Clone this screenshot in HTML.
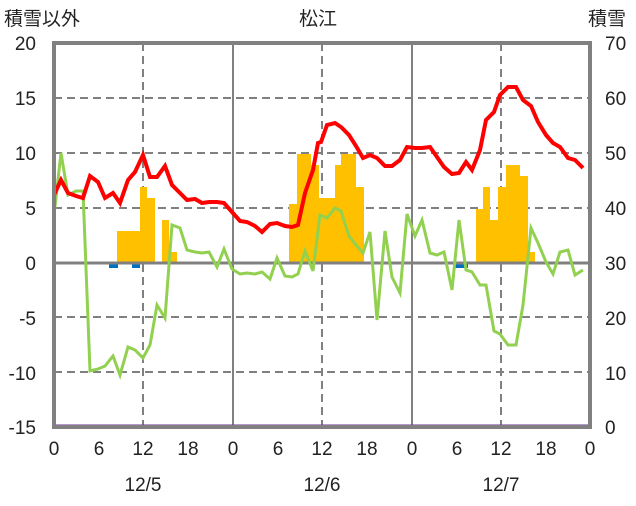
<!DOCTYPE html><html><head><style>body{margin:0;background:#fff}svg text{font-family:"Liberation Sans","Noto Sans CJK JP",sans-serif;font-size:19px;fill:#222}</style></head><body>
<svg width="636" height="501" xmlns="http://www.w3.org/2000/svg">
<g stroke="#808080" stroke-width="2" stroke-dasharray="8,5">
<line x1="54" y1="98" x2="590" y2="98"/><line x1="54" y1="153" x2="590" y2="153"/><line x1="54" y1="208" x2="590" y2="208"/><line x1="54" y1="317" x2="590" y2="317"/><line x1="54" y1="372" x2="590" y2="372"/>
<line x1="143" y1="43" x2="143" y2="427"/><line x1="322" y1="43" x2="322" y2="427"/><line x1="501" y1="43" x2="501" y2="427"/></g>
<g stroke="#808080" stroke-width="2"><line x1="233" y1="43" x2="233" y2="427"/><line x1="412" y1="43" x2="412" y2="427"/></g>
<g fill="#FFC000">
<rect x="117" y="231" width="23" height="32"/><rect x="140" y="187" width="7" height="76"/><rect x="147" y="198" width="8" height="65"/><rect x="162" y="220" width="7" height="43"/><rect x="169" y="252" width="8" height="11"/>
<rect x="289" y="204" width="8" height="59"/><rect x="297" y="154" width="14" height="109"/><rect x="311" y="165" width="8" height="98"/><rect x="319" y="198" width="16" height="65"/><rect x="335" y="165" width="6" height="98"/><rect x="341" y="154" width="15" height="109"/><rect x="356" y="187" width="8" height="76"/>
<rect x="476" y="209" width="7" height="54"/><rect x="483" y="187" width="7" height="76"/><rect x="490" y="220" width="8" height="43"/><rect x="498" y="187" width="8" height="76"/><rect x="506" y="165" width="14" height="98"/><rect x="520" y="176" width="8" height="87"/><rect x="528" y="252" width="7" height="11"/></g>
<g fill="#0070C0"><rect x="109" y="264" width="9" height="4"/><rect x="132" y="264" width="8" height="4"/><rect x="455" y="264" width="13" height="4"/></g>
<line x1="54" y1="263" x2="590" y2="263" stroke="#808080" stroke-width="3"/>
<polyline fill="none" stroke="#92D050" stroke-width="3" points="54,215 61,153 68,195 76,191 83,191 90,371 98,369 105,366 113,356 120,375 128,347 135,350 143,358 150,345 157,305 165,318 172,225 180,228 187,250 195,252 202,253 209,252 217,267 224,249 232,269 240,274 247,273 255,274 262,272 270,279 277,258 285,276 292,277 298,274 305,251 313,271 320,215 327,218 335,208 341,211 349,236 356,245 363,253 370,232 377,320 385,231 392,277 400,293 407,214 415,236 422,220 430,253 437,255 444,252 452,290 459,220 466,270 472,272 480,285 486,285 494,331 500,334 508,345 516,345 523,305 531,228 538,243 546,262 553,274 560,252 568,250 575,275 583,270"/>
<polyline fill="none" stroke="#FF0000" stroke-width="4" points="54,195 61,180 68,193 76,196 83,198 90,176 98,182 105,198 113,193 120,203 128,180 135,172 143,155 150,177 157,177 165,166 172,185 180,193 187,200 195,199 202,203 209,202 217,202 224,203 232,212 240,221 247,222 255,226 262,232 270,224 277,223 285,226 292,227 298,225 305,193 313,170 318,143 321,142 327,125 335,123 341,127 349,135 356,146 363,158 370,155 377,158 385,166 392,166 400,160 407,147 415,148 422,148 430,147 437,157 444,167 452,174 459,173 466,162 472,170 480,150 486,120 494,112 500,95 508,87 516,87 523,100 531,106 538,122 546,135 553,143 560,147 568,158 575,160 583,168"/>
<line x1="54" y1="426" x2="590" y2="426" stroke="#7030A0" stroke-width="3"/>
<rect x="54" y="43" width="536" height="384" fill="none" stroke="#808080" stroke-width="4"/>
<g text-anchor="end"><text x="36" y="50">20</text><text x="36" y="105">15</text><text x="36" y="160">10</text><text x="36" y="215">5</text><text x="36" y="270">0</text><text x="36" y="325">-5</text><text x="36" y="380">-10</text><text x="36" y="434">-15</text></g>
<g><text x="605" y="50">70</text><text x="605" y="105">60</text><text x="605" y="160">50</text><text x="605" y="215">40</text><text x="605" y="270">30</text><text x="605" y="325">20</text><text x="605" y="380">10</text><text x="605" y="434">0</text></g>
<g text-anchor="middle"><text x="54" y="455">0</text><text x="99" y="455">6</text><text x="143" y="455">12</text><text x="188" y="455">18</text><text x="233" y="455">0</text><text x="278" y="455">6</text><text x="322" y="455">12</text><text x="367" y="455">18</text><text x="412" y="455">0</text><text x="457" y="455">6</text><text x="501" y="455">12</text><text x="546" y="455">18</text><text x="590" y="455">0</text>
<text x="143" y="491">12/5</text><text x="322" y="491">12/6</text><text x="501" y="491">12/7</text><text x="318" y="25">松江</text></g>
<text x="4" y="25">積雪以外</text><text x="588" y="25">積雪</text>
</svg></body></html>
